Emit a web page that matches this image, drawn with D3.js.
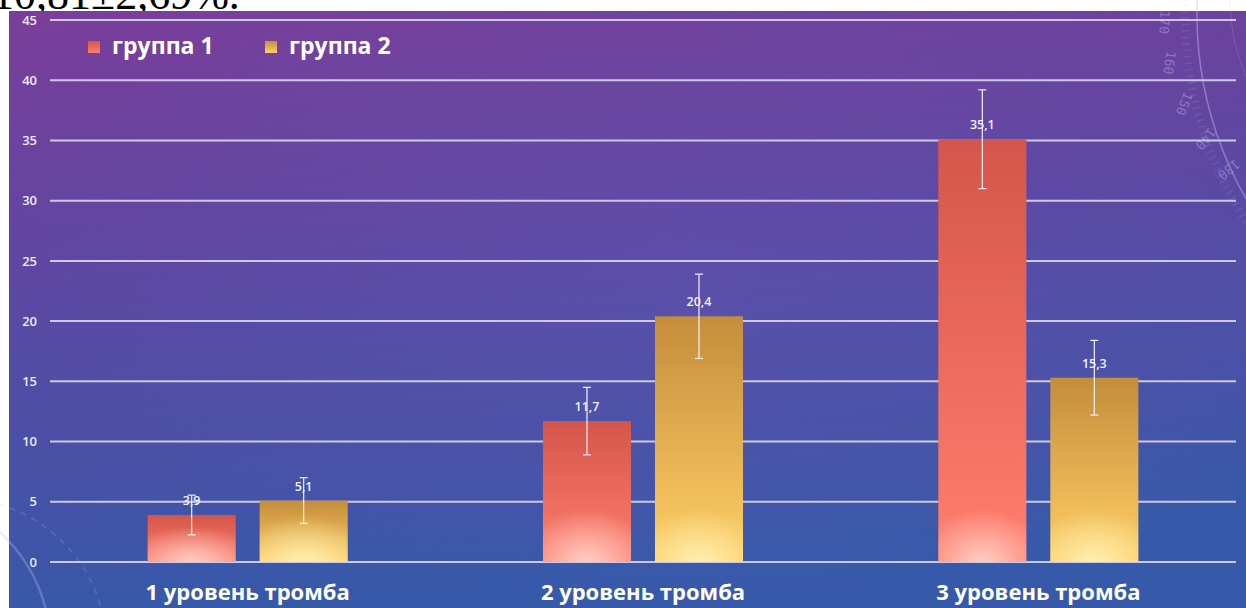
<!DOCTYPE html>
<html>
<head>
<meta charset="utf-8">
<script src="https://cdn.jsdelivr.net/npm/d3@7"></script>
<style>
  html, body { margin: 0; padding: 0; background: #ffffff; overflow: hidden; }
  svg { display: block; }
</style>
</head>
<body>
<svg id="chart" width="1246" height="608"></svg>
<script>
// Thrombus level categories and the two patient groups
const categories = ["1 уровень тромба", "2 уровень тромба", "3 уровень тромба"];
const seriesNames = ["группа 1", "группа 2"];
const group1Values = [3.9, 11.7, 35.1];
const group2Values = [5.1, 20.4, 15.3];
const group1Errors = [1.65, 2.8, 4.1];
const group2Errors = [1.9, 3.5, 3.1];
const yTicks = [0, 5, 10, 15, 20, 25, 30, 35, 40, 45];
const dialLabels = ["170", "160", "150", "140", "130"];

const W = 1246, H = 608;
const svg = d3.select("#chart");
const defs = svg.append("defs");

// Background gradient (purple at the top, blue toward the bottom)
const bg = defs.append("linearGradient").attr("id", "bg")
  .attr("x1", "0").attr("y1", "0").attr("x2", "0.2").attr("y2", "1");
bg.append("stop").attr("offset", "0").attr("stop-color", "#7a3e9a");
bg.append("stop").attr("offset", "0.45").attr("stop-color", "#5b47a2");
bg.append("stop").attr("offset", "1").attr("stop-color", "#3659a9");

const bgGlow = defs.append("radialGradient").attr("id", "bgGlow")
  .attr("cx", "0.55").attr("cy", "0.45").attr("r", "0.6");
bgGlow.append("stop").attr("offset", "0").attr("stop-color", "#6a5ab8").attr("stop-opacity", 0.3);
bgGlow.append("stop").attr("offset", "1").attr("stop-color", "#6a5ab8").attr("stop-opacity", 0);

// Bar fills: vertical gradient plus a soft glow at the foot of each bar
function barGradients(id, top, bottom, glow) {
  const lg = defs.append("linearGradient").attr("id", id)
    .attr("x1", "0").attr("y1", "0").attr("x2", "0").attr("y2", "1");
  lg.append("stop").attr("offset", "0").attr("stop-color", top);
  lg.append("stop").attr("offset", "1").attr("stop-color", bottom);
  const rg = defs.append("radialGradient").attr("id", id + "Glow")
    .attr("cx", "0.5").attr("cy", "1").attr("r", "0.75");
  rg.append("stop").attr("offset", "0").attr("stop-color", glow).attr("stop-opacity", 0.95);
  rg.append("stop").attr("offset", "1").attr("stop-color", glow).attr("stop-opacity", 0);
}
barGradients("g1", "#d4564a", "#ff7f6e", "#ffd2c8");
barGradients("g2", "#c48d3b", "#ffd066", "#fff0b4");

const clip = defs.append("clipPath").attr("id", "topStrip");
clip.append("rect").attr("x", 0).attr("y", 0).attr("width", W).attr("height", 11);

// Text fragment from the page above the chart
svg.append("g").attr("clip-path", "url(#topStrip)")
  .append("text").attr("x", -8).attr("y", 9)
  .attr("font-family", "'Liberation Serif', 'Times New Roman', serif")
  .attr("font-size", 44).attr("fill", "#000")
  .text("10,81±2,69%.");

svg.append("rect").attr("x", 9).attr("y", 11).attr("width", W - 9).attr("height", H - 11)
  .attr("fill", "url(#bg)");
svg.append("rect").attr("x", 9).attr("y", 11).attr("width", W - 9).attr("height", H - 11)
  .attr("fill", "url(#bgGlow)");

// Decorative dial arcs in the corners
const deco = svg.append("g").attr("fill", "none").attr("stroke", "#c0c0f0");
deco.append("circle").attr("cx", -102).attr("cy", 645).attr("r", 152)
  .attr("stroke-width", 2.5).attr("stroke-opacity", 0.3);
deco.append("circle").attr("cx", -41).attr("cy", 646).attr("r", 147)
  .attr("stroke-width", 1.5).attr("stroke-opacity", 0.22).attr("stroke-dasharray", "6,6");
deco.append("circle").attr("cx", 1565).attr("cy", 15).attr("r", 368)
  .attr("stroke-width", 1.5).attr("stroke-opacity", 0.45);
deco.append("circle").attr("cx", 1565).attr("cy", 15).attr("r", 380)
  .attr("stroke-width", 8).attr("stroke-opacity", 0.14).attr("stroke-dasharray", "1.5,5");
deco.append("circle").attr("cx", 1420).attr("cy", 0).attr("r", 190)
  .attr("stroke-width", 1).attr("stroke-opacity", 0.2);
const dialPos = [[1160, 22, 92], [1165, 62, 98], [1180, 102, 112], [1202, 136, 128], [1226, 166, 142]];
svg.append("g").selectAll("text").data(dialLabels).join("text")
  .attr("transform", (d, i) => `translate(${dialPos[i][0]},${dialPos[i][1]}) rotate(${dialPos[i][2]})`)
  .attr("text-anchor", "middle")
  .attr("font-family", "'DejaVu Sans Mono', monospace")
  .attr("font-size", 13).attr("fill", "#c8c8f0").attr("fill-opacity", 0.4)
  .text(d => d);

// Scales
const x0 = d3.scaleBand().domain(categories).range([50, 1236])
  .paddingInner(0.494).paddingOuter(0.247);
const x1 = d3.scaleBand().domain(seriesNames).range([0, x0.bandwidth()])
  .paddingInner(0.214);
const y = d3.scaleLinear().domain([0, 45]).range([562, 20]);

// Gridlines and y axis labels
svg.append("g").selectAll("line").data(yTicks).join("line")
  .attr("x1", 50).attr("x2", 1236)
  .attr("y1", d => y(d)).attr("y2", d => y(d))
  .attr("stroke", "#cfc8e2").attr("stroke-width", 2);

const yAxis = d3.axisLeft(y).tickValues(yTicks).tickSize(0).tickPadding(0);
const yg = svg.append("g").attr("transform", "translate(37,0)").call(yAxis);
yg.select(".domain").remove();
yg.selectAll("text")
  .attr("font-family", "'Open Sans', 'Noto Sans', sans-serif")
  .attr("font-size", 13).attr("font-weight", 600).attr("fill", "#ecebf5");

// Bars
const rows = categories.map((c, i) => ({
  cat: c,
  items: [
    { s: seriesNames[0], v: group1Values[i], e: group1Errors[i], id: "g1" },
    { s: seriesNames[1], v: group2Values[i], e: group2Errors[i], id: "g2" }
  ]
}));

const groups = svg.append("g").selectAll("g").data(rows).join("g")
  .attr("transform", d => `translate(${x0(d.cat)},0)`);

groups.selectAll("rect.bar").data(d => d.items).join("rect").attr("class", "bar")
  .attr("x", d => x1(d.s)).attr("width", x1.bandwidth())
  .attr("y", d => y(d.v)).attr("height", d => y(0) - y(d.v))
  .attr("fill", d => `url(#${d.id})`);
// glow confined to the lowest part of each bar
const glowH = d => Math.min(y(0) - y(d.v), 70);
groups.selectAll("rect.glow").data(d => d.items).join("rect").attr("class", "glow")
  .attr("x", d => x1(d.s)).attr("width", x1.bandwidth())
  .attr("y", d => y(0) - glowH(d)).attr("height", glowH)
  .attr("fill", d => `url(#${d.id}Glow)`);

// Error bars
const err = groups.selectAll("g.err").data(d => d.items).join("g").attr("class", "err")
  .attr("stroke", "#f4f2f8").attr("stroke-width", 1.2);
const cx = d => x1(d.s) + x1.bandwidth() / 2;
err.append("line")
  .attr("x1", cx).attr("x2", cx)
  .attr("y1", d => y(d.v + d.e)).attr("y2", d => y(d.v - d.e));
err.append("line")
  .attr("x1", d => cx(d) - 4).attr("x2", d => cx(d) + 4)
  .attr("y1", d => y(d.v + d.e)).attr("y2", d => y(d.v + d.e));
err.append("line")
  .attr("x1", d => cx(d) - 4).attr("x2", d => cx(d) + 4)
  .attr("y1", d => y(d.v - d.e)).attr("y2", d => y(d.v - d.e));

// Value labels (comma decimal separator)
const fmt = v => d3.format(".1f")(v).replace(".", ",");
groups.selectAll("text.val").data(d => d.items).join("text").attr("class", "val")
  .attr("x", cx)
  .attr("y", d => y(d.v) - 10)
  .attr("text-anchor", "middle")
  .attr("font-family", "'Open Sans', 'Noto Sans', sans-serif")
  .attr("font-size", 12.5).attr("font-weight", 600).attr("fill", "#f2f0f8")
  .text(d => fmt(d.v));

// Category labels
svg.append("g").selectAll("text").data(categories).join("text")
  .attr("x", d => x0(d) + x0.bandwidth() / 2).attr("y", 600)
  .attr("text-anchor", "middle")
  .attr("font-family", "'Open Sans', 'Noto Sans', sans-serif")
  .attr("font-size", 22).attr("font-weight", 700).attr("fill", "#ffffff")
  .text(d => d);

// Legend
const legendX = [88, 265];
const legend = svg.append("g").selectAll("g").data(seriesNames).join("g")
  .attr("transform", (d, i) => `translate(${legendX[i]},41)`);
legend.append("rect").attr("width", 12).attr("height", 12)
  .attr("fill", (d, i) => i === 0 ? "url(#g1)" : "url(#g2)");
legend.append("text").attr("x", 24).attr("y", 13)
  .attr("font-family", "'Open Sans', 'Noto Sans', sans-serif")
  .attr("font-size", 23).attr("font-weight", 700).attr("fill", "#ffffff")
  .text(d => d);
</script>
</body>
</html>
